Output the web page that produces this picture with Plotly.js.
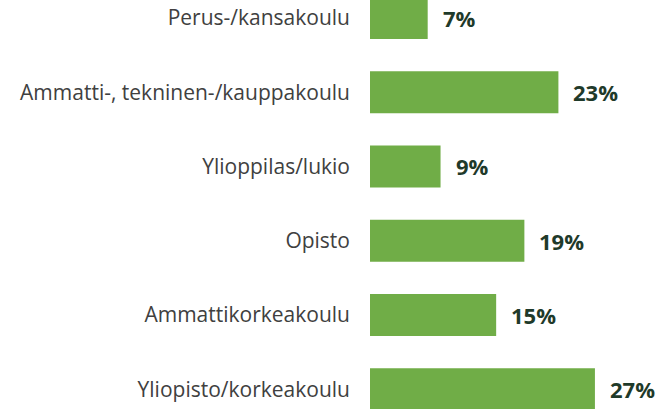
<!DOCTYPE html>
<html>
<head>
<meta charset="utf-8">
<script src="https://cdn.plot.ly/plotly-3.0.1.min.js"></script>
<style>html,body{margin:0;padding:0;background:#fff;}#chart{width:662px;height:409px;}</style>
</head>
<body>
<div id="chart"></div>
<script>
const categories = [
  "Perus-/kansakoulu",
  "Ammatti-, tekninen-/kauppakoulu",
  "Ylioppilas/lukio",
  "Opisto",
  "Ammattikorkeakoulu",
  "Yliopisto/korkeakoulu"
];
const values = [6.95, 22.7, 8.5, 18.6, 15.2, 27.1];
const valueLabels = ["7%", "23%", "9%", "19%", "15%", "27%"];

const trace = {
  type: "bar",
  orientation: "h",
  x: values,
  y: categories,
  marker: { color: "#70AD47" },
  hoverinfo: "none"
};

const annotations = values.map((v, i) => ({
  x: v,
  y: categories[i],
  xref: "x",
  yref: "y",
  text: valueLabels[i],
  showarrow: false,
  xanchor: "left",
  yanchor: "middle",
  xshift: 13,
  font: { family: "Open Sans", size: 22, color: "#1F3A2A", weight: 700 }
}));

const layout = {
  width: 662,
  height: 409,
  margin: { l: 370, r: 0, t: 0, b: 0 },
  paper_bgcolor: "#ffffff",
  plot_bgcolor: "#ffffff",
  showlegend: false,
  bargap: 0.434,
  xaxis: {
    range: [0, 35.18],
    showgrid: false,
    zeroline: false,
    showline: false,
    showticklabels: false,
    ticks: ""
  },
  yaxis: {
    type: "category",
    range: [5.267, -0.2425],
    showgrid: false,
    zeroline: false,
    showline: false,
    ticks: "",
    ticklabelstandoff: 19,
    tickfont: { family: "Open Sans", size: 21, color: "#404040" }
  },
  annotations: annotations
};

Plotly.newPlot("chart", [trace], layout, { staticPlot: true, displayModeBar: false });
</script>
</body>
</html>
